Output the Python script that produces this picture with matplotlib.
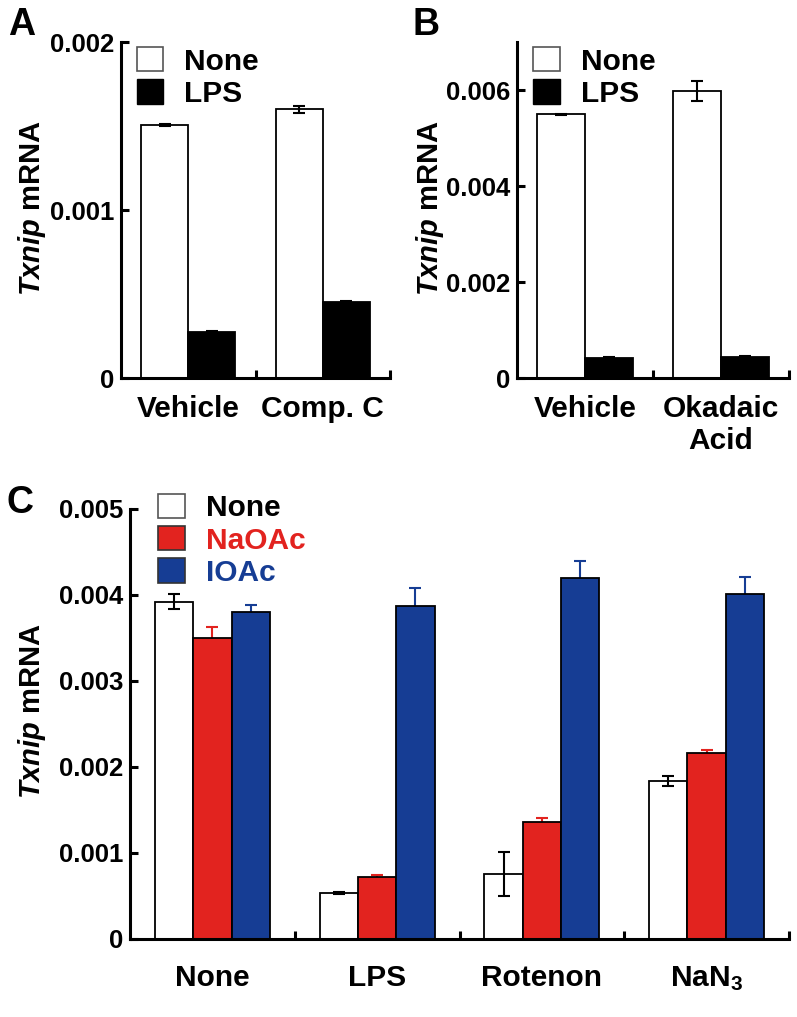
import matplotlib
matplotlib.use("Agg")
import matplotlib.pyplot as plt
from matplotlib.patches import Patch
import numpy as np

plt.rcParams['font.family'] = ['Liberation Sans', 'DejaVu Sans']
plt.rcParams['font.weight'] = 'bold'
plt.rcParams['mathtext.fontset'] = 'custom'
plt.rcParams['mathtext.rm'] = 'Liberation Sans:bold'
plt.rcParams['mathtext.it'] = 'Liberation Sans:italic:bold'
plt.rcParams['mathtext.bf'] = 'Liberation Sans:bold'

# panel A
a_groups = ['Vehicle', 'Comp. C']
a_none = [0.001506, 0.001600]
a_none_err = [0.000005, 0.000020]
a_lps = [0.000276, 0.000454]
a_lps_err = [0.000002, 0.000002]

# panel B
b_groups = ['Vehicle', 'Okadaic\nAcid']
b_none = [0.005494, 0.005985]
b_none_err = [0.00001, 0.00021]
b_lps = [0.00042, 0.00044]
b_lps_err = [0.00001, 0.00001]

# panel C
c_groups = ['None', 'LPS', 'Rotenon', 'NaN$_{\\mathrm{3}}$']
c_series = ['None', 'NaOAc', 'IOAc']
c_none = [0.003922, 0.000538, 0.000756, 0.001840]
c_none_err = [0.00009, 0.000012, 0.00026, 0.00006]
c_naoac = [0.003497, 0.000724, 0.001357, 0.002159]
c_naoac_err = [0.00013, 0.00002, 0.00005, 0.00004]
c_ioac = [0.003799, 0.003872, 0.004201, 0.004015]
c_ioac_err = [0.00009, 0.00021, 0.00019, 0.00020]

RED = '#E2231F'
BLUE = '#163D94'
W, H = 797, 1017

fig = plt.figure(figsize=(W / 100, H / 100), dpi=100)


def make_ax(left, right, top, bottom):
    return fig.add_axes([left / W, 1 - bottom / H, (right - left) / W, (bottom - top) / H])


def style_ax(ax, ngroups, ymax, yticks, ylabels, labels, xpad=12):
    ax.set_xlim(0, ngroups)
    ax.set_ylim(0, ymax)
    for s in ['top', 'right']:
        ax.spines[s].set_visible(False)
    for s in ['left', 'bottom']:
        ax.spines[s].set_linewidth(2.2)
    ax.set_yticks(yticks)
    ax.set_yticklabels(ylabels, fontsize=18.5, fontweight='bold')
    ax.tick_params(axis='y', direction='in', length=6, width=2.2, pad=5)
    ax.set_xticks(np.arange(1, ngroups + 1))
    ax.set_xticklabels([])
    ax.tick_params(axis='x', direction='in', length=6, width=2.2)
    ax.set_xticks(np.arange(ngroups) + 0.5, minor=True)
    ax.set_xticklabels(labels, minor=True, fontsize=21.5, fontweight='bold')
    ax.tick_params(axis='x', which='minor', length=0, pad=xpad)


def two_bar_panel(ax, none, none_err, lps, lps_err):
    x = np.arange(len(none)) + 0.5
    w = 0.35
    ax.bar(x - w / 2, none, w, color='white', edgecolor='black', linewidth=1.3, zorder=2)
    ax.bar(x + w / 2, lps, w, color='black', edgecolor='black', linewidth=1.3, zorder=2)
    ax.errorbar(x - w / 2, none, yerr=none_err, fmt='none', ecolor='black',
                elinewidth=1.5, capsize=4, capthick=1.5, zorder=3)
    ax.errorbar(x + w / 2, lps, yerr=lps_err, fmt='none', ecolor='black',
                elinewidth=1.5, capsize=4, capthick=1.5, zorder=3)
    handles = [Patch(facecolor='white', edgecolor='#555555', linewidth=1.2, label='None'),
               Patch(facecolor='black', edgecolor='black', label='LPS')]
    ax.legend(handles=handles, loc='upper left', bbox_to_anchor=(0.06, 0.985), frameon=False,
              prop={'size': 21.5, 'weight': 'bold'}, handlelength=0.88, handleheight=0.88,
              handletextpad=0.7, labelspacing=0.12, borderpad=0, borderaxespad=0)


# A
axA = make_ax(121, 390, 42, 378)
two_bar_panel(axA, a_none, a_none_err, a_lps, a_lps_err)
style_ax(axA, 2, 0.002, [0, 0.001, 0.002], ['0', '0.001', '0.002'], a_groups)

# B
axB = make_ax(517, 789, 42, 378)
two_bar_panel(axB, b_none, b_none_err, b_lps, b_lps_err)
style_ax(axB, 2, 0.007, [0, 0.002, 0.004, 0.006], ['0', '0.002', '0.004', '0.006'], b_groups)

# C
axC = make_ax(130, 789, 509, 939)
x = np.arange(len(c_groups)) + 0.5
w = 0.2325
series = [(c_none, c_none_err, 'white', 'black', 3),
          (c_naoac, c_naoac_err, RED, RED, 1),
          (c_ioac, c_ioac_err, BLUE, BLUE, 1)]
for i, (vals, errs, fc, ec, ez) in enumerate(series):
    xs = x + (i - 1) * w
    axC.bar(xs, vals, w, color=fc, edgecolor='black', linewidth=1.3, zorder=2)
    axC.errorbar(xs, vals, yerr=errs, fmt='none', ecolor=ec, elinewidth=1.5,
                 capsize=4, capthick=1.5, zorder=ez)
style_ax(axC, 4, 0.005, [0, 0.001, 0.002, 0.003, 0.004, 0.005],
         ['0', '0.001', '0.002', '0.003', '0.004', '0.005'], c_groups, xpad=18)
handles = [Patch(facecolor='white', edgecolor='#555555', linewidth=1.2, label=c_series[0]),
           Patch(facecolor=RED, edgecolor='#333333', linewidth=1.2, label=c_series[1]),
           Patch(facecolor=BLUE, edgecolor='#333333', linewidth=1.2, label=c_series[2])]
leg = axC.legend(handles=handles, loc='upper left', bbox_to_anchor=(0.043, 1.035), frameon=False,
                 prop={'size': 21.5, 'weight': 'bold'}, handlelength=0.88, handleheight=0.88,
                 handletextpad=0.7, labelspacing=0.12, borderpad=0, borderaxespad=0)
for t, c in zip(leg.get_texts(), ['black', RED, BLUE]):
    t.set_color(c)

# y labels
ylab = '$\\mathit{Txnip}$ mRNA'
fig.text(32 / W, 1 - 208 / H, ylab, rotation=90, ha='center', va='center', fontsize=21, fontweight='bold')
fig.text(430 / W, 1 - 208 / H, ylab, rotation=90, ha='center', va='center', fontsize=21, fontweight='bold')
fig.text(32 / W, 1 - 711 / H, ylab, rotation=90, ha='center', va='center', fontsize=21, fontweight='bold')

# panel letters
fig.text(8 / W, 1 - 35 / H, 'A', fontsize=27, fontweight='bold', va='baseline')
fig.text(412 / W, 1 - 35 / H, 'B', fontsize=27, fontweight='bold', va='baseline')
fig.text(7 / W, 1 - 513 / H, 'C', fontsize=27, fontweight='bold', va='baseline')

fig.savefig('out.png', dpi=100)
